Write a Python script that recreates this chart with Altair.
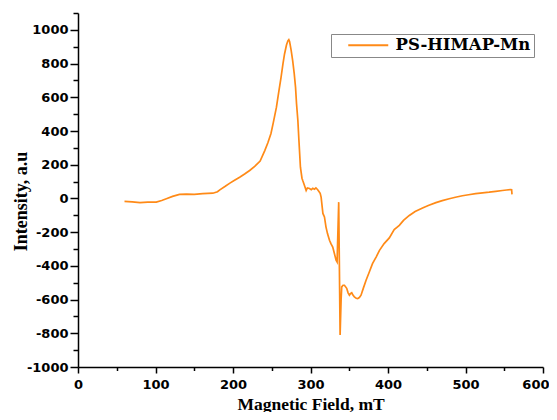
import altair as alt
import pandas as pd

# Magnetic field (mT) and EPR intensity (a.u.)
field = [60, 70, 80, 90, 101, 108, 114, 122, 131, 140, 150, 161, 174, 180, 183,
         190, 196, 202, 208.6, 215, 221.5, 228, 235, 241, 245, 249, 252, 256, 259,
         262, 264.5, 266.5, 269, 270.8, 272, 273, 275, 277, 279, 280.7, 282, 283.7,
         285, 287, 289, 290, 292, 294.4, 296, 298.7, 301, 303, 305, 307, 309, 310,
         312.5, 313.7, 316, 318, 320, 322, 324.5, 326.5, 328.7, 331, 333, 334.3,
         336.4, 338.2, 339.5, 340.3, 342, 343.8, 346.7, 348.5, 350.2, 351.5, 353.2,
         355, 356.6, 359, 360.9, 363, 365.2, 368, 371.7, 376, 380, 385, 389, 395,
         401.7, 408, 414.6, 420, 427.5, 435, 444.6, 452, 461.8, 470, 479, 487, 496,
         504, 513, 522, 530.5, 539, 547.6, 553, 558, 559.5, 560]
intensity = [-18, -20, -25, -22, -22, -12, -2, 12, 24, 26, 24, 28, 31, 40, 51,
             72, 91, 108, 126, 145, 166, 190, 222, 284, 330, 385, 450, 540, 630,
             718, 800, 857, 910, 935, 942, 931, 880, 817, 740, 659, 560, 462,
             350, 185, 120, 106, 80, 47, 62, 59, 52, 60, 55, 62, 53, 47,
             30, 8, -89, -110, -170, -210, -248, -270, -288, -330, -367, -377,
             -22, -810, -600, -525, -515, -515, -533, -560, -574, -565, -560,
             -575, -584, -592, -594, -588, -574, -535, -485, -435, -387, -345, -308, -268,
             -234, -185, -160, -130, -101, -78, -57, -42, -25, -13, -2, 7, 16,
             22, 28, 33, 37, 42, 47, 50, 53, 52, 24]
series_name = "PS-HIMAP-Mn"

x_ticks = list(range(0, 601, 50))
y_ticks = list(range(-1000, 1101, 100))

df = pd.DataFrame({"field": field, "intensity": intensity,
                   "series": [series_name] * len(field)})

chart = alt.Chart(df).mark_line(strokeWidth=1.7).encode(
    x=alt.X("field:Q",
            scale=alt.Scale(domain=[0, 600], nice=False, zero=False),
            axis=alt.Axis(
                title="Magnetic Field, mT", values=x_ticks,
                labelExpr="datum.value % 100 === 0 ? '' + datum.value : ''",
                grid=False, labelPadding=5, labelOverlap=False, labelFlush=False,
                labelAlign={"condition": {"test": "datum.value === 600", "value": "right"}, "value": "center"},
                labelOffset={"condition": {"test": "datum.value === 600", "value": 6}, "value": 0},
                tickSize={"condition": {"test": "datum.value % 100 === 0", "value": 6}, "value": 3.5},
                labelFont="DejaVu Sans", labelFontWeight="bold", labelFontSize=13, labelColor="black",
                domainColor="black", domainWidth=1.5, tickColor="black", tickWidth=1.5,
                titleFont="Liberation Serif", titleFontWeight="bold", titleFontSize=17.5,
                titleColor="black", titleY=42, titleBaseline="alphabetic",
            )),
    y=alt.Y("intensity:Q",
            scale=alt.Scale(domain=[-1000, 1100], nice=False, zero=False),
            axis=alt.Axis(
                title="Intensity, a.u", values=y_ticks,
                labelExpr="datum.value % 200 === 0 ? '' + datum.value : ''",
                grid=False, labelPadding=2, labelOverlap=False, labelFlush=False,
                tickSize={"condition": {"test": "datum.value % 200 === 0", "value": 8}, "value": 5},
                labelFont="DejaVu Sans", labelFontWeight="bold", labelFontSize=13, labelColor="black",
                domainColor="black", domainWidth=1.5, tickColor="black", tickWidth=1.5,
                titleFont="Liberation Serif", titleFontWeight="bold", titleFontSize=18,
                titleColor="black", titleX=-57, titleY=188, titleAlign="center",
                titleBaseline="middle", titleAngle=270,
            )),
    color=alt.Color("series:N",
                    scale=alt.Scale(domain=[series_name], range=["#ff8a17"]),
                    legend=alt.Legend(
                        title=None, orient="none", legendX=253, legendY=21,
                        symbolType="M-4,0H4", symbolSize=100, symbolStrokeWidth=2,
                        symbolOffset=26, labelOffset=19,
                        labelFont="DejaVu Serif", labelFontWeight="bold", labelFontSize=16.5,
                        labelColor="black", labelLimit=300,
                        strokeColor="#888888", fillColor="white", padding=3, cornerRadius=0,
                    )),
).properties(
    width=465, height=354,
    autosize=alt.AutoSizeParams(type="none"),
    padding={"left": 70, "top": 5, "right": 6, "bottom": 45},
).configure_view(stroke=None)

chart.save("out.html", embed_options={"renderer": "svg", "actions": False})
